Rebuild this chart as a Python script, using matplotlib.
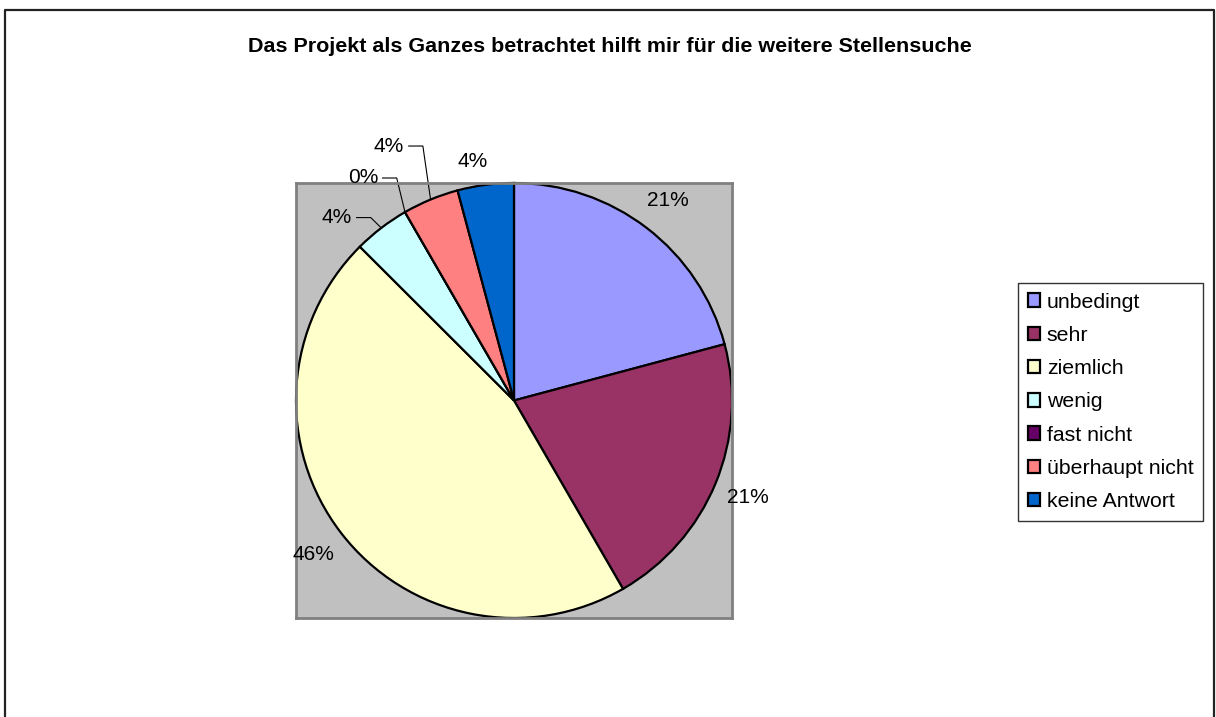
import numpy as np
import matplotlib
matplotlib.use("Agg")
import matplotlib.pyplot as plt
from matplotlib.patches import Patch
from matplotlib.lines import Line2D

plt.rcParams['font.family'] = ['Liberation Sans', 'DejaVu Sans']

title = "Das Projekt als Ganzes betrachtet hilft mir für die weitere Stellensuche"
categories = ["unbedingt", "sehr", "ziemlich", "wenig", "fast nicht", "überhaupt nicht", "keine Antwort"]
counts = [5, 5, 11, 1, 0, 1, 1]
colors = ["#9999FF", "#993366", "#FFFFCC", "#CCFFFF", "#660066", "#FF8080", "#0066CC"]

W, H = 1216, 717
fig = plt.figure(figsize=(W / 100, H / 100), dpi=100)

# outer chart border (left, top, right)
fig.add_artist(Line2D([5 / W, 5 / W, 1214 / W, 1214 / W], [0, 1 - 10 / H, 1 - 10 / H, 0],
                      transform=fig.transFigure, color="#222222", lw=1.6))

fig.text(610 / W, 1 - 47 / H, title, ha="center", va="center", fontsize=15.45, fontweight="bold")

ax = fig.add_axes([296 / W, 1 - 618 / H, 436 / W, 435 / H])
ax.set_facecolor("#C0C0C0")
for s in ax.spines.values():
    s.set_color("#808080")
    s.set_linewidth(2)
ax.set_xticks([])
ax.set_yticks([])

wedges, _ = ax.pie(counts, colors=colors, startangle=90, counterclock=False,
                   wedgeprops=dict(edgecolor="black", linewidth=1.6), radius=1.0)
ax.set_xlim(-1, 1)
ax.set_ylim(-1, 1)
ax.set_aspect("auto")
ax.set_frame_on(True)

total = sum(counts)
pcts = [f"{round(100 * c / total):.0f}%" for c in counts]
cum = np.cumsum([0] + counts)
mid_angles = [90 - 360 * (cum[i] + counts[i] / 2) / total for i in range(len(counts))]

# label placement: None -> radial at 1.16, else (x, y) in data coordinates with leader line
label_pos = [None, None, None, (-0.812, 0.841), (-0.693, 1.023), (-0.573, 1.17), (-0.188, 1.10)]
leader = [False, False, False, True, True, True, False]

for i, p in enumerate(pcts):
    a = np.deg2rad(mid_angles[i])
    if label_pos[i] is None:
        x, y = 1.16 * np.cos(a), 1.16 * np.sin(a)
    else:
        x, y = label_pos[i]
    ax.text(x, y, p, ha="center", va="center", fontsize=15, clip_on=False)
    if leader[i]:
        px, py = np.cos(a), np.sin(a)
        x0 = x + 0.09
        x1 = x0 + 0.065
        ax.plot([x0, x1, px], [y, y, py], color="black", lw=0.8, clip_on=False)

handles = [Patch(facecolor=c, edgecolor="black", linewidth=1.6) for c in colors]
leg = fig.legend(handles, categories, loc="upper left",
                 bbox_to_anchor=(1018 / W, 1 - 283 / H), bbox_transform=fig.transFigure,
                 fontsize=15.3, frameon=True, fancybox=False, borderaxespad=0,
                 handlelength=0.6, handleheight=0.6, handletextpad=0.3,
                 labelspacing=0.67, borderpad=0.45)
leg.get_frame().set_edgecolor("black")
leg.get_frame().set_linewidth(1.0)

fig.savefig("out.png", dpi=100)
